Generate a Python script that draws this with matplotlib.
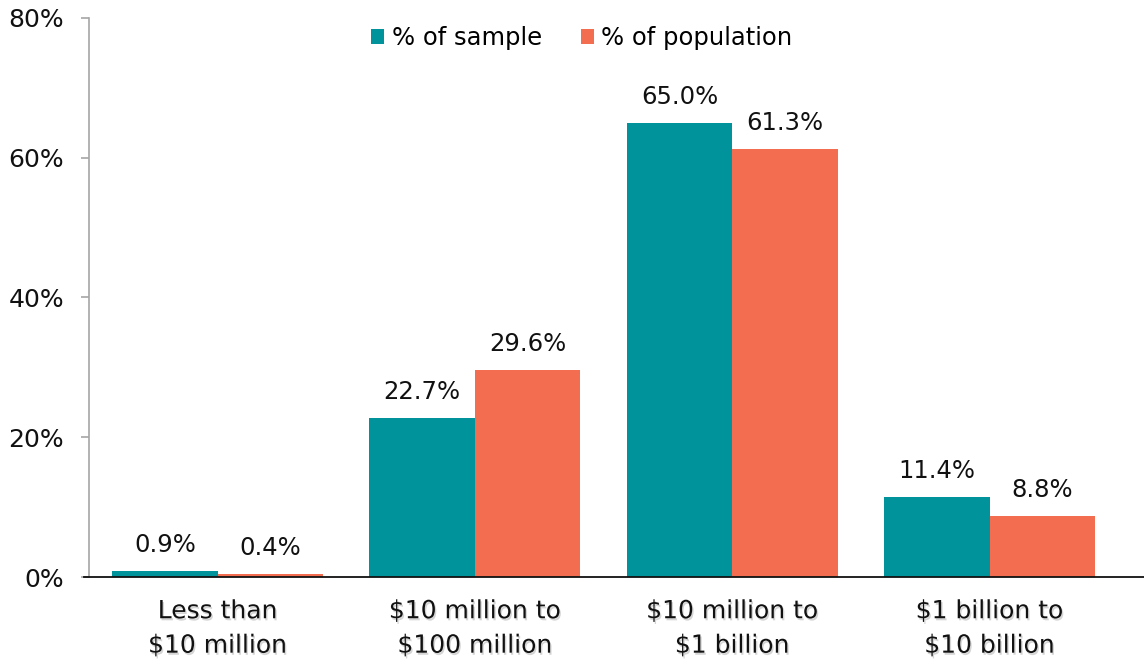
import numpy as np
import matplotlib.pyplot as plt
import matplotlib.patheffects as pe

categories = ['Less than\n$10 million', '$10 million to\n$100 million',
              '$10 million to\n$1 billion', '$1 billion to\n$10 billion']
sample = [0.9, 22.7, 65.0, 11.4]
population = [0.4, 29.6, 61.3, 8.8]
series_names = ['% of sample', '% of population']
yticks = [0, 20, 40, 60, 80]

teal = '#00939b'
orange = '#f36e50'

plt.rcParams['font.family'] = ['DejaVu Sans']

fig = plt.figure(figsize=(11.44, 6.64), dpi=100)
ax = fig.add_axes([0.0778, 0.131, 0.9222, 0.842])

x = np.arange(len(categories))
w = 0.41
b1 = ax.bar(x - w / 2, sample, w, color=teal, label=series_names[0])
b2 = ax.bar(x + w / 2, population, w, color=orange, label=series_names[1])

# value labels over each bar
for bars, vals in [(b1, sample), (b2, population)]:
    for r, v in zip(bars, vals):
        ax.annotate('%.1f%%' % v, (r.get_x() + r.get_width() / 2, v),
                    xytext=(0, 10), textcoords='offset points',
                    ha='center', va='bottom', fontsize=17.5, color='#111111')

ax.set_xlim(-0.5, 3.6)
ax.set_ylim(0, 80)
ax.set_yticks(yticks)
ax.set_yticklabels(['%d%%' % t for t in yticks], fontsize=18, color='#111111')
ax.set_xticks(x)
ax.set_xticklabels(categories, fontsize=18, color='#111111', linespacing=1.55)
for lab in ax.get_xticklabels():
    lab.set_path_effects([pe.withSimplePatchShadow(offset=(1, -1.5), shadow_rgbFace='#888888', alpha=0.35)])

ax.tick_params(axis='x', length=0, pad=16)
ax.tick_params(axis='y', length=6, width=1.2, color='#a6a6a6', pad=12)

for s in ['top', 'right']:
    ax.spines[s].set_visible(False)
ax.spines['left'].set_color('#a6a6a6')
ax.spines['left'].set_linewidth(1.2)
ax.spines['bottom'].set_color('#111111')
ax.spines['bottom'].set_linewidth(1.3)
ax.spines['bottom'].set_bounds(-0.52, 3.6)
ax.spines['bottom'].set_path_effects([pe.withSimplePatchShadow(offset=(0, -1.5), shadow_rgbFace='#888888', alpha=0.4)])

ax.legend(loc='upper center', bbox_to_anchor=(0.467, 1.025), ncol=2, frameon=False,
          fontsize=17.5, handlelength=0.55, handleheight=0.55, handletextpad=0.3,
          columnspacing=1.6)

fig.savefig('out.png', dpi=100)
